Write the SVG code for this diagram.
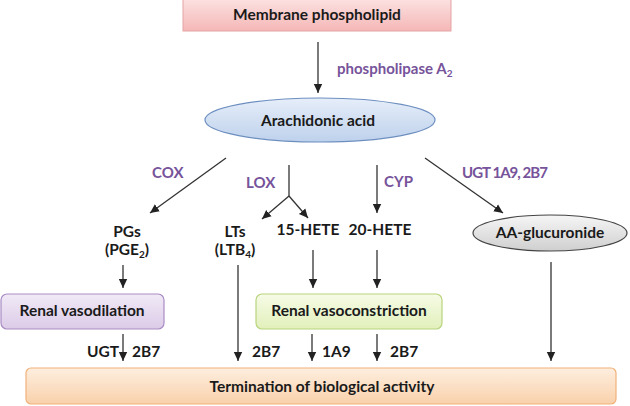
<svg xmlns="http://www.w3.org/2000/svg" width="630" height="406" viewBox="0 0 630 406">
<defs>
<linearGradient id="gPink" x1="0" y1="0" x2="0" y2="1"><stop offset="0" stop-color="#fce2e2"/><stop offset="1" stop-color="#f5b7b7"/></linearGradient>
<linearGradient id="gBlue" x1="0" y1="0" x2="0" y2="1"><stop offset="0" stop-color="#e6eef9"/><stop offset="1" stop-color="#bed1ec"/></linearGradient>
<linearGradient id="gGray" x1="0" y1="0" x2="0" y2="1"><stop offset="0" stop-color="#f6f6f6"/><stop offset="1" stop-color="#cfcfcf"/></linearGradient>
<linearGradient id="gLav" x1="0" y1="0" x2="0" y2="1"><stop offset="0" stop-color="#f1eaf6"/><stop offset="1" stop-color="#dccbe8"/></linearGradient>
<linearGradient id="gGreen" x1="0" y1="0" x2="0" y2="1"><stop offset="0" stop-color="#f6fbe6"/><stop offset="1" stop-color="#e2f0bb"/></linearGradient>
<linearGradient id="gOrange" x1="0" y1="0" x2="0" y2="1"><stop offset="0" stop-color="#feeedf"/><stop offset="1" stop-color="#f9d1ab"/></linearGradient>
<marker id="ah" markerWidth="10" markerHeight="10" refX="9" refY="5" orient="auto" markerUnits="userSpaceOnUse"><path d="M0,0.8 L9,5 L0,9.2 z" fill="#222"/></marker>
</defs>
<style>
.t{font-family:Lato,"Open Sans","Liberation Sans",sans-serif;font-weight:bold;font-size:15.5px;fill:#1a1a1a}
.p{font-family:Lato,"Open Sans","Liberation Sans",sans-serif;font-weight:bold;font-size:15px;fill:#76539a}
.c{stroke:#333;stroke-width:1.3;fill:none}
.a{marker-end:url(#ah)}
</style>
<g id="membrane">
<rect x="183" y="-2" width="268" height="33" fill="url(#gPink)" stroke="#e3a3a3" stroke-width="1"/>
<text class="t" x="317" y="20" text-anchor="middle">Membrane phospholipid</text>
</g>
<g id="arachidonic">
<ellipse cx="320" cy="120" rx="115" ry="22" fill="url(#gBlue)" stroke="#6d8fc0" stroke-width="1.2"/>
<text class="t" x="318" y="126" text-anchor="middle">Arachidonic acid</text>
</g>
<g id="pgs"><text class="t" x="127" y="237" text-anchor="middle">PGs</text><text class="t" x="127" y="255" text-anchor="middle">(PGE<tspan font-size="10" dy="3">2</tspan><tspan dy="-3">)</tspan></text></g>
<g id="lts"><text class="t" x="235" y="237" text-anchor="middle">LTs</text><text class="t" x="235" y="255" text-anchor="middle">(LTB<tspan font-size="10" dy="3">4</tspan><tspan dy="-3">)</tspan></text></g>
<g id="hete15"><text class="t" x="308" y="235" text-anchor="middle">15-HETE</text></g>
<g id="hete20"><text class="t" x="380" y="235" text-anchor="middle">20-HETE</text></g>
<g id="aagluc">
<ellipse cx="550" cy="233" rx="77" ry="18" fill="url(#gGray)" stroke="#444" stroke-width="1.2"/>
<text class="t" x="550" y="238" text-anchor="middle">AA-glucuronide</text>
</g>
<g id="vasodilation">
<rect x="1" y="294" width="163" height="35" rx="6" fill="url(#gLav)" stroke="#a98cc4" stroke-width="1.2"/>
<text class="t" x="82" y="316" text-anchor="middle">Renal vasodilation</text>
</g>
<g id="vasoconstriction">
<rect x="256" y="294" width="186" height="35" rx="6" fill="url(#gGreen)" stroke="#b8d47e" stroke-width="1.2"/>
<text class="t" x="349" y="316" text-anchor="middle">Renal vasoconstriction</text>
</g>
<g id="termination">
<rect x="26" y="368" width="590" height="36" rx="5" fill="url(#gOrange)" stroke="#f0b27a" stroke-width="1.2"/>
<text class="t" x="322" y="392" text-anchor="middle">Termination of biological activity</text>
</g>
<g id="connectors">
<line class="c a" x1="318" y1="42" x2="318" y2="93"/>
<line class="c a" x1="226" y1="158" x2="150" y2="213"/>
<polyline class="c" points="289,165 289,196"/>
<line class="c a" x1="289" y1="196" x2="262" y2="219"/>
<line class="c a" x1="289" y1="196" x2="308" y2="218"/>
<line class="c a" x1="377" y1="165" x2="377" y2="213"/>
<line class="c a" x1="425" y1="158" x2="503" y2="213"/>
<line class="c a" x1="123" y1="265" x2="123" y2="288"/>
<line class="c a" x1="313" y1="250" x2="313" y2="288"/>
<line class="c a" x1="377" y1="250" x2="377" y2="288"/>
<line class="c a" x1="123" y1="334" x2="123" y2="361"/>
<line class="c a" x1="238" y1="265" x2="238" y2="361"/>
<line class="c a" x1="312" y1="334" x2="312" y2="361"/>
<line class="c a" x1="377" y1="334" x2="377" y2="361"/>
<line class="c a" x1="551" y1="262" x2="551" y2="361"/>
</g>
<g id="labels">
<text class="p" x="337" y="74">phospholipase A<tspan font-size="10" dy="3">2</tspan></text>
<text class="p" x="152" y="178">COX</text>
<text class="p" x="246" y="188">LOX</text>
<text class="p" x="384" y="187">CYP</text>
<text class="p" x="462" y="178" font-size="14.5" textLength="86" lengthAdjust="spacing">UGT 1A9, 2B7</text>
<text class="t" x="119" y="357" text-anchor="end">UGT</text>
<text class="t" x="132" y="357">2B7</text>
<text class="t" x="252" y="357">2B7</text>
<text class="t" x="322" y="357">1A9</text>
<text class="t" x="390" y="357">2B7</text>
</g>
</svg>
